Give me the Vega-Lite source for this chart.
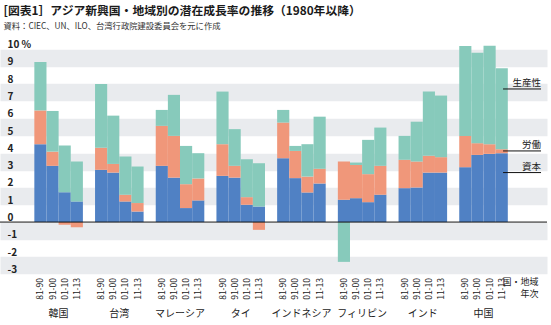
{
  "$schema": "https://vega.github.io/schema/vega-lite/v6.json",
  "width": 547,
  "height": 225,
  "autosize": {"type": "none"},
  "padding": {"left": 0, "top": 49, "right": 4, "bottom": 51},
  "background": "white",
  "title": {
    "text": "[図表1］アジア新興国・地域別の潜在成長率の推移（1980年以降）",
    "subtitle": "資料：CIEC、UN、ILO、台湾行政院建設委員会を元に作成",
    "anchor": "start",
    "dx": 4,
    "offset": 9,
    "font": "Noto Sans CJK JP",
    "fontSize": 11.8,
    "fontWeight": "bold",
    "color": "#1a1a1a",
    "subtitleFont": "Noto Sans CJK JP",
    "subtitleFontSize": 8.3,
    "subtitleColor": "#333333",
    "subtitlePadding": 4
  },
  "config": {
    "view": {"stroke": null},
    "font": "Noto Sans CJK JP",
    "axisX": {
      "titleX": 538,
      "titleY": 3,
      "titleAlign": "right",
      "titleBaseline": "top",
      "titleAngle": 0,
      "titleFontSize": 9,
      "titleFontWeight": "normal",
      "titleLineHeight": 12,
      "titleColor": "#222222",
      "labelAngle": 0,
      "labelPadding": 34,
      "labelFontSize": 10,
      "labelColor": "#222222",
      "ticks": false,
      "domain": false,
      "grid": false
    }
  },
  "resolve": {"axis": {"y": "independent"}},
  "datasets": {
    "bars": [
      {"country": "韓国", "period": "81-90", "capital": 4.5, "labor": 1.95, "productivity": 2.8},
      {"country": "韓国", "period": "91-00", "capital": 3.25, "labor": 0.82, "productivity": 2.35},
      {"country": "韓国", "period": "01-10", "capital": 1.73, "labor": -0.15, "productivity": 2.69},
      {"country": "韓国", "period": "11-13", "capital": 1.19, "labor": -0.3, "productivity": 2.31},
      {"country": "台湾", "period": "81-90", "capital": 3.02, "labor": 1.28, "productivity": 3.68},
      {"country": "台湾", "period": "91-00", "capital": 2.86, "labor": 0.5, "productivity": 2.79},
      {"country": "台湾", "period": "01-10", "capital": 1.19, "labor": 0.39, "productivity": 2.21},
      {"country": "台湾", "period": "11-13", "capital": 0.61, "labor": 0.49, "productivity": 2.11},
      {"country": "マレーシア", "period": "81-90", "capital": 3.25, "labor": 2.31, "productivity": 0.92},
      {"country": "マレーシア", "period": "91-00", "capital": 2.57, "labor": 2.41, "productivity": 2.37},
      {"country": "マレーシア", "period": "01-10", "capital": 0.81, "labor": 1.38, "productivity": 2.21},
      {"country": "マレーシア", "period": "11-13", "capital": 1.25, "labor": 1.27, "productivity": 1.46},
      {"country": "タイ", "period": "81-90", "capital": 2.67, "labor": 1.83, "productivity": 3.04},
      {"country": "タイ", "period": "91-00", "capital": 2.57, "labor": 0.68, "productivity": 2.12},
      {"country": "タイ", "period": "01-10", "capital": 1.0, "labor": 0.44, "productivity": 2.19},
      {"country": "タイ", "period": "11-13", "capital": 0.9, "labor": -0.45, "productivity": 2.5},
      {"country": "インドネシア", "period": "81-90", "capital": 3.69, "labor": 2.06, "productivity": 0.73},
      {"country": "インドネシア", "period": "91-00", "capital": 2.54, "labor": 1.57, "productivity": 0.29},
      {"country": "インドネシア", "period": "01-10", "capital": 1.71, "labor": 0.92, "productivity": 1.87},
      {"country": "インドネシア", "period": "11-13", "capital": 2.23, "labor": 0.85, "productivity": 3.01},
      {"country": "フィリピン", "period": "81-90", "capital": 1.29, "labor": 2.21, "productivity": -2.3},
      {"country": "フィリピン", "period": "91-00", "capital": 1.38, "labor": 1.92, "productivity": 0.14},
      {"country": "フィリピン", "period": "01-10", "capital": 1.15, "labor": 1.62, "productivity": 1.98},
      {"country": "フィリピン", "period": "11-13", "capital": 1.58, "labor": 1.67, "productivity": 2.21},
      {"country": "インド", "period": "81-90", "capital": 1.96, "labor": 1.64, "productivity": 1.38},
      {"country": "インド", "period": "91-00", "capital": 2.0, "labor": 1.5, "productivity": 2.3},
      {"country": "インド", "period": "01-10", "capital": 2.86, "labor": 0.97, "productivity": 3.71},
      {"country": "インド", "period": "11-13", "capital": 2.86, "labor": 0.89, "productivity": 3.56},
      {"country": "中国", "period": "81-90", "capital": 3.17, "labor": 1.81, "productivity": 5.19},
      {"country": "中国", "period": "91-00", "capital": 3.88, "labor": 0.68, "productivity": 5.23},
      {"country": "中国", "period": "01-10", "capital": 3.94, "labor": 0.56, "productivity": 5.69},
      {"country": "中国", "period": "11-13", "capital": 3.98, "labor": 0.23, "productivity": 4.68}
    ],
    "notes": [
      {"label": "生産性", "y": 7.69},
      {"label": "労働", "y": 4.11},
      {"label": "資本", "y": 2.86}
    ]
  },
  "layer": [
    {
      "data": {"name": "bars"},
      "transform": [{"fold": ["capital", "labor", "productivity"], "as": ["component", "value"]}],
      "mark": {"type": "bar"},
      "encoding": {
        "x": {
          "field": "country",
          "type": "nominal",
          "scale": {"domain": ["韓国", "台湾", "マレーシア", "タイ", "インドネシア", "フィリピン", "インド", "中国"], "paddingInner": 0.2, "paddingOuter": 0.6057, "align": 0.467},
          "axis": {"title": ["国・地域", "年次"]}
        },
        "xOffset": {
          "field": "period",
          "type": "nominal",
          "scale": {"domain": ["81-90", "91-00", "01-10", "11-13"], "paddingInner": 0, "paddingOuter": 0}
        },
        "y": {
          "field": "value",
          "type": "quantitative",
          "stack": "zero",
          "scale": {"domain": [-3, 10], "nice": false},
          "axis": {
            "orient": "left",
            "title": null,
            "values": [-3, -2, -1, 0, 1, 2, 3, 4, 5, 6, 7, 8, 9, 10],
            "grid": false,
            "ticks": false,
            "domain": false,
            "labelAlign": "left",
            "labelPadding": -7,
            "labelBaseline": "alphabetic",
            "labelOffset": -1.5,
            "labelFontSize": 10,
            "labelFontWeight": "bold",
            "labelColor": "#222222",
            "labelOverlap": false,
            "labelExpr": "datum.value == 10 ? '10 %' : '' + datum.value"
          }
        },
        "color": {
          "field": "component",
          "type": "nominal",
          "scale": {"domain": ["capital", "labor", "productivity"], "range": ["#5081c4", "#f0977a", "#87cabb"]},
          "legend": null
        },
        "order": {"field": "component", "sort": "ascending"}
      }
    },
    {
      "data": {"values": [{}]},
      "mark": {"type": "rule", "color": "#111111", "strokeWidth": 1},
      "encoding": {
        "y": {
          "datum": 0,
          "axis": {
            "orient": "right",
            "title": null,
            "values": [9.5, 7.5, 5.5, 3.5, 1.5, -0.5, -2.5],
            "grid": true,
            "gridColor": "#e9ebee",
            "gridWidth": 17.31,
            "gridOpacity": 1,
            "labels": false,
            "ticks": false,
            "domain": false
          }
        }
      }
    },
    {
      "data": {"name": "bars"},
      "mark": {"type": "text", "angle": 270, "align": "right", "baseline": "middle", "dx": -4, "fontSize": 8.5, "color": "#222222"},
      "encoding": {
        "x": {"field": "country", "type": "nominal"},
        "xOffset": {"field": "period", "type": "nominal"},
        "y": {"datum": -3, "axis": null},
        "text": {"field": "period"}
      }
    },
    {
      "data": {"name": "notes"},
      "mark": {"type": "rule", "color": "#111111", "strokeWidth": 1},
      "encoding": {
        "x": {"datum": "中国", "type": "nominal", "bandPosition": 0.902},
        "x2": {"datum": "中国", "bandPosition": 1.684},
        "y": {"field": "y", "type": "quantitative", "axis": null}
      }
    },
    {
      "data": {"name": "notes"},
      "mark": {"type": "text", "align": "right", "baseline": "alphabetic", "dy": -3, "fontSize": 9.5, "color": "#222222"},
      "encoding": {
        "x": {"datum": "中国", "type": "nominal", "bandPosition": 1.684},
        "y": {"field": "y", "type": "quantitative", "axis": null},
        "text": {"field": "label"}
      }
    }
  ]
}
